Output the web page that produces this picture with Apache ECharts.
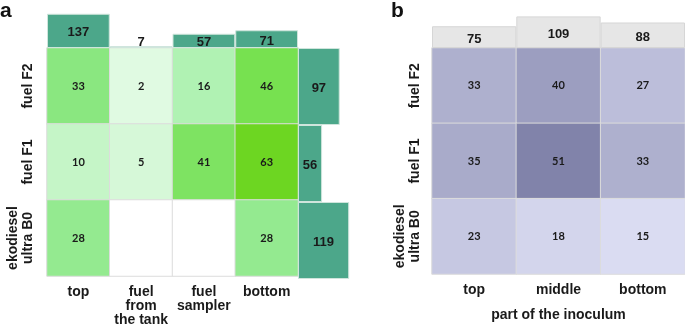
<!DOCTYPE html>
<html>
<head>
<meta charset="utf-8">
<script src="https://cdn.jsdelivr.net/npm/echarts@6/dist/echarts.min.js"></script>
<style>
  html, body { margin: 0; padding: 0; background: #fff; }
  #chart { width: 685px; height: 327px; }
</style>
</head>
<body>
<div id="chart"></div>
<script>
// panel a: sample site x fuel
const aCols = ['top', 'fuel\nfrom\nthe tank', 'fuel\nsampler', 'bottom']
const aRows = ['fuel F2', 'fuel F1', 'ekodiesel\nultra B0']
const aF2 = [33, 2, 16, 46]
const aF1 = [10, 5, 41, 63]
const aB0 = [28, 0, 0, 28]
const aColTotals = [137, 7, 57, 71]
const aRowTotals = [97, 56, 119]

// panel b: part of the inoculum x fuel
const bCols = ['top', 'middle', 'bottom']
const bRows = ['fuel F2', 'fuel F1', 'ekodiesel\nultra B0']
const bF2 = [33, 40, 27]
const bF1 = [35, 51, 33]
const bB0 = [23, 18, 15]
const bColTotals = [75, 109, 88]

const toCells = (rows) => {
  const out = []
  rows.forEach((row, r) => row.forEach((v, c) => out.push([c, r, v])))
  return out
}

const axisFont = { fontFamily: 'Liberation Sans', fontWeight: 'bold', fontSize: 14, color: '#1a1a1a' }
const cellLabel = {
  show: true,
  fontFamily: 'Lato', fontWeight: 'bold', fontSize: 11, color: '#1a1a1a',
  formatter: p => (p.value[2] ? p.value[2] : '')
}
const barLabel = { fontFamily: 'Liberation Sans', fontWeight: 'bold', fontSize: 13, color: '#1a1a1a' }
const hidden = { show: false }

const chart = echarts.init(document.getElementById('chart'), null, { renderer: 'canvas' })

const catAxisBase = {
  type: 'category',
  axisLine: hidden, axisTick: hidden, splitLine: hidden
}

const option = {
  animation: false,
  title: [
    { text: 'a', left: -5, top: -4, textStyle: { fontFamily: 'Liberation Sans', fontWeight: 'bold', fontSize: 21, color: '#111' } },
    { text: 'b', left: 386, top: -4, textStyle: { fontFamily: 'Liberation Sans', fontWeight: 'bold', fontSize: 21, color: '#111' } }
  ],
  grid: [
    { left: 47, top: 48, width: 251, height: 231 },  // a heatmap
    { left: 47, top: 8, width: 251, height: 40 },    // a column totals
    { left: 298, top: 48, width: 60, height: 231 },  // a row totals
    { left: 432, top: 48, width: 253, height: 231 }, // b heatmap
    { left: 432, top: 8, width: 253, height: 40 }    // b column totals
  ],
  xAxis: [
    { ...catAxisBase, gridIndex: 0, data: aCols,
      axisLabel: { ...axisFont, interval: 0, lineHeight: 14, margin: 9 } },
    { ...catAxisBase, gridIndex: 1, data: aCols, axisLabel: hidden },
    { type: 'value', gridIndex: 2, min: 0, max: 139.5, show: false },
    { ...catAxisBase, gridIndex: 3, data: bCols,
      axisLabel: { ...axisFont, interval: 0, margin: 9 },
      name: 'part of the inoculum', nameLocation: 'middle', nameGap: 34,
      nameTextStyle: axisFont },
    { ...catAxisBase, gridIndex: 4, data: bCols, axisLabel: hidden }
  ],
  yAxis: [
    { ...catAxisBase, gridIndex: 0, data: aRows, inverse: true,
      axisLabel: { ...axisFont, interval: 0, rotate: 90, lineHeight: 15, margin: 11 } },
    { type: 'value', gridIndex: 1, min: 0, max: 160, show: false },
    { ...catAxisBase, gridIndex: 2, data: aRows, inverse: true, axisLabel: hidden },
    { ...catAxisBase, gridIndex: 3, data: bRows, inverse: true,
      axisLabel: { ...axisFont, interval: 0, rotate: 90, lineHeight: 15, margin: 9 } },
    { type: 'value', gridIndex: 4, min: 0, max: 138, show: false }
  ],
  visualMap: [
    {
      // empty cells (0) fall outside the selected range and stay white
      type: 'continuous', show: false, seriesIndex: 0, min: 0, max: 63, range: [1, 63],
      inRange: { color: ['#e7fbe9', '#b1f2b4', '#8ce886', '#75e04b', '#6dd622'] },
      outOfRange: { color: '#ffffff' }
    },
    {
      type: 'continuous', show: false, seriesIndex: 3, min: 15, max: 51,
      inRange: { color: ['#dadcf2', '#8183aa'] }
    }
  ],
  series: [
    {
      type: 'heatmap', xAxisIndex: 0, yAxisIndex: 0,
      data: toCells([aF2, aF1, aB0]),
      itemStyle: { borderColor: '#dcdcdc', borderWidth: 1 },
      label: cellLabel
    },
    {
      type: 'bar', xAxisIndex: 1, yAxisIndex: 1, barWidth: '100%',
      data: aColTotals.map(v => ({
        value: v,
        label: { show: true, position: v < 20 ? 'top' : 'inside', offset: v < 20 ? [0, 8] : [0, 2], ...barLabel }
      })),
      itemStyle: { color: '#4ca78a', borderColor: '#cfe5dc', borderWidth: 1 }
    },
    {
      type: 'bar', xAxisIndex: 2, yAxisIndex: 2, barWidth: '100%',
      data: aRowTotals,
      label: { show: true, position: 'inside', offset: [0, 2], ...barLabel },
      itemStyle: { color: '#4ca78a', borderColor: '#cfe5dc', borderWidth: 1 }
    },
    {
      type: 'heatmap', xAxisIndex: 3, yAxisIndex: 3,
      data: toCells([bF2, bF1, bB0]),
      itemStyle: { borderColor: '#dcdcdc', borderWidth: 1 },
      label: cellLabel
    },
    {
      type: 'bar', xAxisIndex: 4, yAxisIndex: 4, barWidth: '100%',
      data: bColTotals,
      label: { show: true, position: 'inside', offset: [0, 2], ...barLabel },
      itemStyle: { color: '#e6e6e6', borderColor: '#d6d6d6', borderWidth: 1 }
    }
  ]
}

chart.setOption(option)
</script>
</body>
</html>
